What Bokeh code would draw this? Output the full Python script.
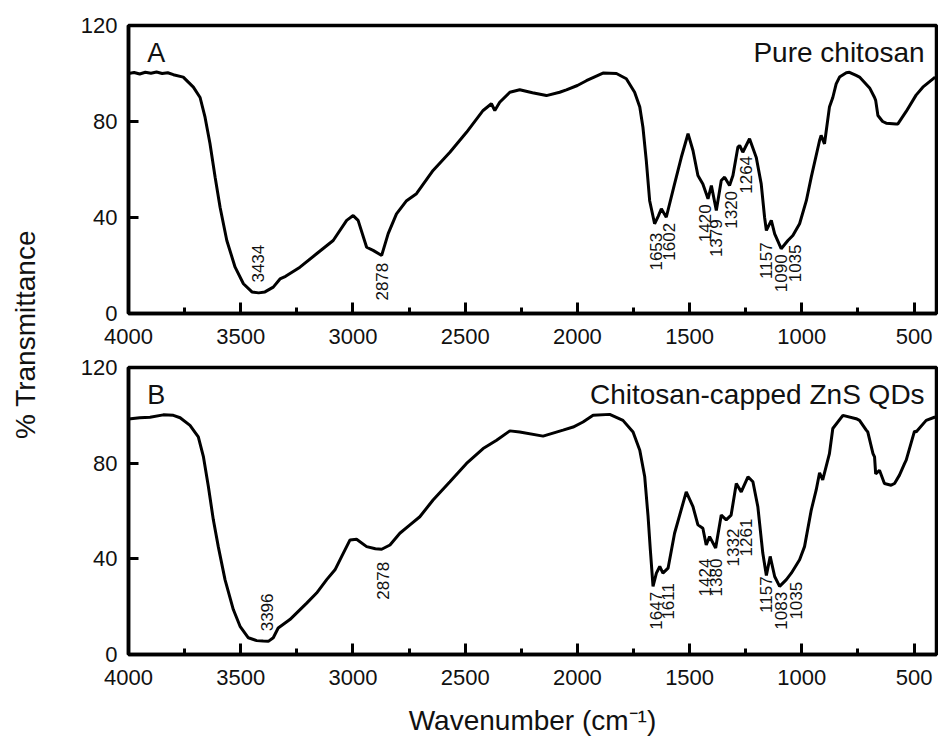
from math import pi
from bokeh.plotting import figure
from bokeh.models import Range1d, FixedTicker, Label, ColumnDataSource
from bokeh.layouts import row, column
from bokeh.embed import file_html
from bokeh.resources import INLINE
from bokeh.core.properties import value

FONT = "Liberation Sans"
INK = "#111111"

# ---------------- data: panel A (pure chitosan) ----------------
wn_A = [4000, 3975, 3950, 3925, 3900, 3875, 3850, 3825, 3800, 3756, 3711, 3681, 3659, 3637,
        3614, 3592, 3562, 3525, 3488, 3450, 3420, 3392, 3355, 3325, 3300, 3236, 3162,
        3088, 3028, 2999, 2977, 2939, 2910, 2872, 2843, 2806, 2761, 2717, 2643, 2568,
        2494, 2420, 2383, 2368, 2346, 2301, 2257, 2200, 2138, 2079, 2049, 2000, 1960,
        1886, 1826, 1782, 1745, 1722, 1708, 1693, 1678, 1656, 1640, 1626, 1604, 1567,
        1537, 1507, 1485, 1463, 1441, 1418, 1403, 1381, 1359, 1344, 1322, 1307, 1285,
        1277, 1263, 1233, 1203, 1181, 1166, 1158, 1136, 1121, 1092, 1062, 1040, 1010,
        980, 958, 921, 914, 899, 877, 862, 847, 832, 802, 788, 758, 743, 698, 676, 671,
        661, 640, 624, 580, 572, 535, 491, 461, 406]
t_A = [100.0, 100.4, 99.8, 100.5, 100.1, 100.6, 100.0, 100.3, 99.5, 98.5, 94.3, 90.0, 81.8, 70.8,
       56.8, 44.3, 30.4, 19.3, 12.4, 9.0, 8.6, 9.0, 11.0, 14.4, 15.5, 19.3, 24.9,
       30.4, 38.8, 40.8, 38.8, 27.6, 26.3, 24.2, 33.3, 41.5, 47.0, 49.9, 59.6, 67.2,
       75.5, 84.6, 87.4, 84.6, 88.0, 92.2, 93.2, 92.0, 90.8, 92.2, 93.2, 95.0, 97.0,
       100.2, 100.0, 97.8, 92.2, 86.0, 77.6, 63.7, 47.0, 37.4, 40.5, 43.6, 40.1, 54.0,
       65.1, 74.9, 67.9, 57.5, 54.0, 47.8, 53.3, 42.9, 55.4, 56.8, 53.3, 57.5, 69.3,
       70.0, 67.2, 72.8, 65.0, 54.0, 40.1, 34.6, 38.8, 33.2, 27.0, 30.4, 32.5, 37.4,
       47.0, 56.8, 72.1, 74.2, 70.7, 86.0, 90.0, 95.7, 98.5, 100.3, 100.5, 99.2, 98.5, 94.0, 90.0, 88.8,
       82.5, 80.0, 79.3, 79.0, 79.0, 84.2, 91.0, 94.3, 98.5]

peaks_A = ["3434", "2878", "1653", "1602", "1420", "1379", "1320", "1264", "1157", "1090", "1035"]
label_x_A = [3423, 2872, 1648, 1593, 1430, 1381, 1314, 1247, 1158, 1092, 1032]
label_y_A = [12.9, 5.4, 17.9, 22.0, 29.7, 23.5, 35.3, 49.9, 14.4, 8.9, 13.0]

# ---------------- data: panel B (chitosan-capped ZnS QDs) ----------------
wn_B = [4000, 3950, 3904, 3845, 3800, 3770, 3726, 3689, 3666, 3644, 3622, 3600, 3570, 3533,
        3503, 3466, 3429, 3400, 3377, 3355, 3333, 3281, 3206, 3162, 3117, 3080, 3050,
        3013, 2984, 2939, 2900, 2872, 2835, 2791, 2746, 2702, 2643, 2568, 2494, 2420,
        2360, 2301, 2257, 2153, 2064, 2019, 1975, 1930, 1856, 1797, 1752, 1722, 1700,
        1685, 1675, 1663, 1648, 1633, 1619, 1596, 1567, 1515, 1485, 1463, 1441, 1426,
        1411, 1384, 1359, 1337, 1315, 1292, 1270, 1240, 1218, 1196, 1174, 1158, 1141,
        1121, 1099, 1069, 1047, 1010, 988, 958, 936, 921, 907, 877, 862, 817, 758, 743,
        713, 706, 683, 676, 671, 654, 632, 602, 587, 565, 542, 535, 498, 491, 446, 406]
t_B = [98.5, 99.0, 99.2, 100.2, 100.0, 99.0, 95.8, 91.0, 82.6, 70.1, 56.3, 45.1, 31.3, 18.8,
       11.8, 7.0, 5.8, 5.6, 5.5, 7.0, 11.1, 14.6, 21.5, 25.7, 31.3, 35.4, 41.0,
       47.9, 48.2, 45.1, 44.2, 44.0, 45.8, 50.7, 54.2, 57.6, 64.6, 72.2, 79.9, 86.1,
       89.6, 93.5, 93.0, 91.3, 93.8, 95.1, 97.2, 100.0, 100.4, 97.9, 93.0, 85.4, 74.3,
       57.6, 43.8, 28.5, 34.0, 36.8, 34.0, 36.1, 50.7, 68.0, 61.8, 54.2, 52.8, 45.8,
       49.3, 44.5, 58.3, 56.3, 58.3, 71.5, 68.0, 74.3, 72.2, 61.8, 42.4, 33.0, 41.0,
       32.6, 28.5, 31.3, 34.0, 39.6, 45.1, 60.4, 68.8, 76.0, 73.0, 84.0, 94.5, 100.0, 98.6, 97.9,
       93.8, 93.0, 84.0, 82.6, 75.5, 77.0, 71.5, 70.8, 71.5, 75.0, 79.9, 81.3, 93.4, 93.0, 97.9, 99.3]

peaks_B = ["3396", "2878", "1647", "1611", "1424", "1380", "1332", "1261", "1157", "1083", "1035"]
label_x_B = [3384, 2865, 1648, 1596, 1430, 1381, 1307, 1247, 1158, 1092, 1025]
label_y_B = [9.7, 22.9, 10.4, 14.6, 24.3, 24.3, 36.8, 41.0, 17.4, 10.4, 14.6]

x_ticks = [4000, 3500, 3000, 2500, 2000, 1500, 1000, 500]
x_minor = [3750, 3250, 2750, 2250, 1750, 1250, 750]
y_ticks = [0, 40, 80, 120]


def panel(wn, t, peaks, lx, ly, letter, title, height, top, bottom, xlabel):
    p = figure(width=870, height=height, x_range=Range1d(4000, 400), y_range=Range1d(0, 120),
               output_backend="svg", toolbar_location=None,
               min_border_left=60, min_border_right=2, min_border_top=top, min_border_bottom=bottom)
    p.background_fill_color = "white"
    p.border_fill_color = "white"
    p.xgrid.visible = False
    p.ygrid.visible = False
    p.outline_line_color = "black"
    p.outline_line_width = 3.5
    p.outline_line_alpha = 1.0

    src = ColumnDataSource(dict(x=wn, y=t))
    p.line("x", "y", source=src, line_color="black", line_width=3)

    lab = ColumnDataSource(dict(x=lx, y=ly, text=peaks))
    p.text("x", "y", text="text", source=lab, angle=pi / 2, text_align="left",
           text_baseline="middle", text_font=value(FONT), text_font_size="17px",
           text_color=INK)

    p.add_layout(Label(x=3917, y=108.5, text=letter, text_align="left", text_baseline="middle",
                       text_font=FONT, text_font_size="27px", text_color=INK))
    p.add_layout(Label(x=453, y=108.7, text=title, text_align="right", text_baseline="middle",
                       text_font=FONT, text_font_size="28px", text_color=INK))

    xa = p.xaxis[0]
    xa.ticker = FixedTicker(ticks=x_ticks, minor_ticks=x_minor)
    xa.axis_line_width = 3.5
    xa.major_tick_line_width = 3
    xa.minor_tick_line_width = 3
    xa.major_tick_in = 11
    xa.major_tick_out = 0
    xa.minor_tick_in = 6
    xa.minor_tick_out = 0
    xa.major_label_text_font = FONT
    xa.major_label_text_font_size = "22px"
    xa.major_label_text_color = INK
    xa.major_label_standoff = 15
    if xlabel:
        xa.axis_label = xlabel
        xa.axis_label_text_font = FONT
        xa.axis_label_text_font_size = "28px"
        xa.axis_label_text_font_style = "normal"
        xa.axis_label_text_color = INK
        xa.axis_label_standoff = 17

    ya = p.yaxis[0]
    ya.ticker = FixedTicker(ticks=y_ticks, minor_ticks=[])
    ya.axis_line_width = 3.5
    ya.major_tick_line_width = 3
    ya.major_tick_in = 10
    ya.major_tick_out = 0
    ya.minor_tick_in = 0
    ya.minor_tick_out = 0
    ya.major_label_text_font = FONT
    ya.major_label_text_font_size = "22px"
    ya.major_label_text_color = INK
    ya.major_label_standoff = 11
    return p


ptop = panel(wn_A, t_A, peaks_A, label_x_A, label_y_A, "A", "Pure chitosan", 353, 25, 40, None)
pbot = panel(wn_B, t_B, peaks_B, label_x_B, label_y_B, "B", "Chitosan-capped ZnS QDs", 385, 14, 83,
             "Wavenumber (cm\u207b\u00b9)")

YH = 738
yfig = figure(width=68, height=YH, x_range=Range1d(0, 68), y_range=Range1d(0, YH),
              output_backend="svg", toolbar_location=None, min_border=0,
              x_axis_location=None, y_axis_location=None)
yfig.outline_line_color = None
yfig.xgrid.visible = False
yfig.ygrid.visible = False
yfig.add_layout(Label(x=25, y=YH - 334, text="% Transmittance", angle=pi / 2,
                      text_align="center", text_baseline="middle", text_font=FONT,
                      text_font_size="28px", text_color=INK))

layout = row(yfig, column(ptop, pbot, spacing=0), spacing=0)

with open("out.html", "w") as f:
    f.write(file_html(layout, INLINE))
